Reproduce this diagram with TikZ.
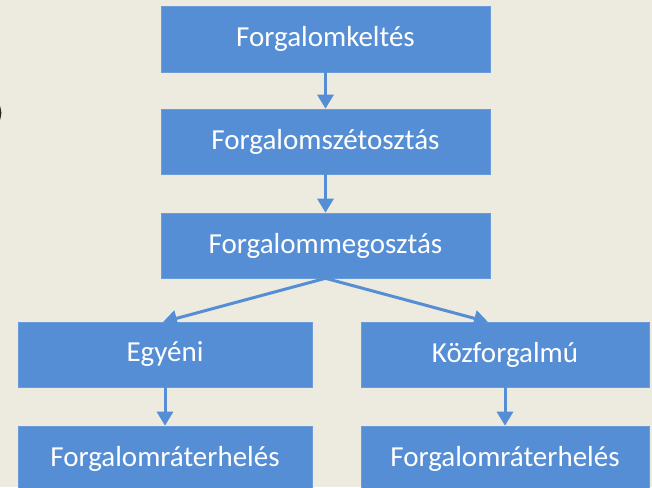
\documentclass[tikz,border=0pt]{standalone}
\usepackage{fontspec}
\setmainfont{Carlito}
\usetikzlibrary{arrows.meta}
\definecolor{pagebg}{HTML}{EDEBE0}
\definecolor{boxblue}{HTML}{558ED5}
\definecolor{boxedge}{HTML}{6A9CDA}
\tikzset{
  stepbox/.style={rectangle, fill=boxblue, draw=boxedge, line width=0.6pt,
    text=white, font=\fontsize{29}{34}\selectfont, inner sep=0pt},
  flow/.style={draw=boxblue, line width=3pt,
    -{Triangle[width=16pt,length=14pt]}}
}
\begin{document}
\begin{tikzpicture}[x=1pt,y=-1pt]
  \useasboundingbox (0,0) rectangle (652,487);
  \clip (0,0) rectangle (652,487);
  \fill[pagebg] (0,0) rectangle (652,487);

  % edge of a bracket glyph cut by the left border
  \draw[black!85, line width=2pt] (-3,103) .. controls (1.5,109) and (1.5,117) .. (-3,123);

  % main chain
  \node[stepbox, minimum width=329pt, minimum height=66pt] (keltes) at (325.5,39) {Forgalomkeltés};
  \node[stepbox, minimum width=329pt, minimum height=65pt] (szetosztas) at (325.5,141.5) {Forgalomszétosztás};
  \node[stepbox, minimum width=329pt, minimum height=65pt] (megosztas) at (325.5,245.5) {Forgalommegosztás};

  % branches
  \node[stepbox, minimum width=294pt, minimum height=65pt] (egyeni) at (165,354.5) {Egyéni};
  \node[stepbox, minimum width=288pt, minimum height=65pt] (kozf) at (505,354.5) {Közforgalmú};
  \node[stepbox, minimum width=294pt, minimum height=65pt] (terhel1) at (165,458.5) {Forgalomráterhelés};
  \node[stepbox, minimum width=288pt, minimum height=65pt] (terhel2) at (505,458.5) {Forgalomráterhelés};

  \coordinate (tipleft) at (163,322);
  \coordinate (tipright) at (488,322);

  \draw[flow] (keltes.south) -- (szetosztas.north);
  \draw[flow] (szetosztas.south) -- (megosztas.north);
  \draw[flow, shorten <=0pt] (megosztas.south) -- (tipleft);
  \draw[flow] (megosztas.south) -- (tipright);
  \draw[flow] (egyeni.south) -- (terhel1.north);
  \draw[flow] (kozf.south) -- (terhel2.north);
\end{tikzpicture}
\end{document}
